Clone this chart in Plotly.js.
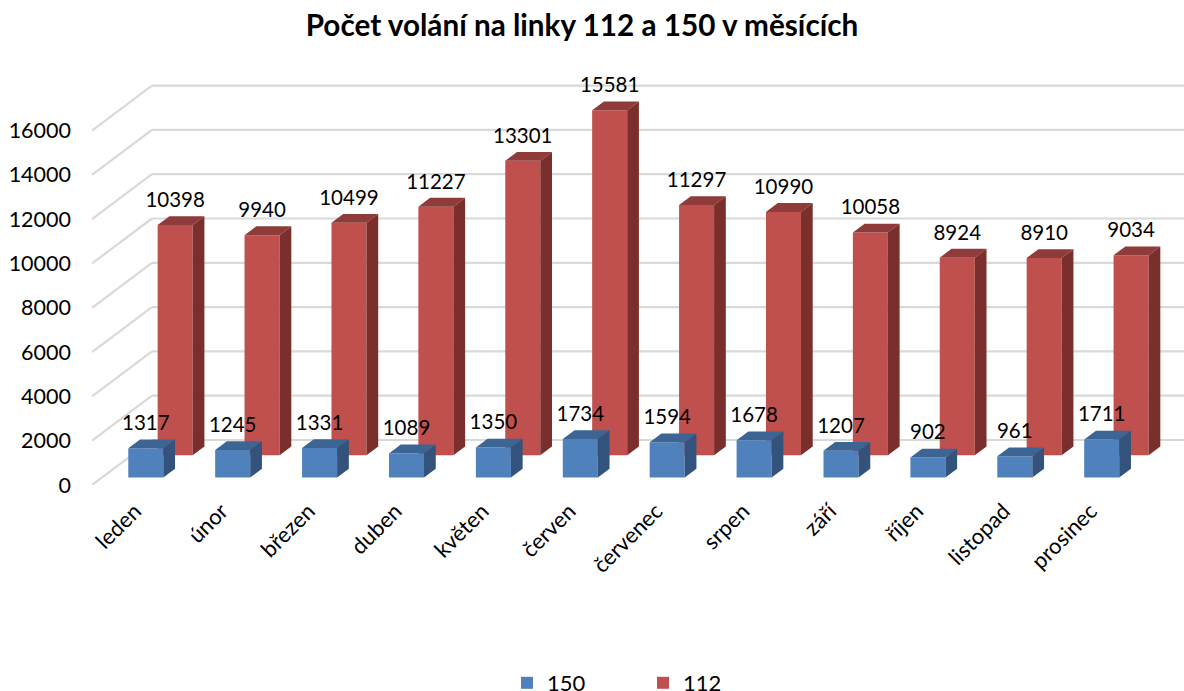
<!DOCTYPE html>
<html><head><meta charset="utf-8">
<script src="https://cdn.plot.ly/plotly-3.0.1.min.js"></script>
<style>html,body{margin:0;padding:0;background:#fff;overflow:hidden}#c{width:1184px;height:691px}</style>
</head><body><div id="c"></div>
<script>
const months=['leden','únor','březen','duben','květen','červen','červenec','srpen','září','říjen','listopad','prosinec'];
const calls150=[1317,1245,1331,1089,1350,1734,1594,1678,1207,902,961,1711];
const calls112=[10398,9940,10499,11227,13301,15581,11297,10990,10058,8924,8910,9034];
const yTicks=[0,2000,4000,6000,8000,10000,12000,14000,16000];

// projection of the pseudo-3D scene, in axis units
const barW=0.403, depthX=0.135, depthY=397;
const baseBlue=338, baseRed=1340, redShift=0.338;
const wallX=0.69, wallY=2031;
const xMin=-0.619, xMax=11.947, yMax=18735;
const xBlue=months.map((m,i)=>i), xRed=months.map((m,i)=>i+redShift);

function faces(xs,vals,base){
  const top={x:[],y:[]}, side={x:[],y:[]};
  xs.forEach((c,i)=>{
    const l=c-barW/2,r=c+barW/2,b=base,t=base+vals[i];
    top.x.push(l,r,r+depthX,l+depthX,l,null);
    top.y.push(t,t,t+depthY,t+depthY,t,null);
    side.x.push(r,r+depthX,r+depthX,r,r,null);
    side.y.push(b,b+depthY,t+depthY,t,b,null);
  });
  return {top,side};
}
const poly=(f,color)=>({type:'scatter',mode:'lines',x:f.x,y:f.y,fill:'toself',fillcolor:color,
  line:{width:0,color:color},hoverinfo:'skip',showlegend:false});
const fr=faces(xRed,calls112,baseRed), fb=faces(xBlue,calls150,baseBlue);
const bar=(name,xs,vals,base,color)=>({type:'bar',name:name,x:xs,y:vals,base:base,width:barW,
  marker:{color:color,line:{width:0}},hovertemplate:'%{customdata}<extra>'+name+'</extra>',customdata:months});
const labels=(xs,vals,base)=>({type:'scatter',mode:'text',x:xs,y:vals.map(v=>v+base+depthY+190),
  text:vals.map(String),textposition:'top center',textfont:{family:'Lato, Carlito, sans-serif',size:20.5,color:'#000'},
  hoverinfo:'skip',showlegend:false,cliponaxis:false});

const traces=[
  bar('112',xRed,calls112,baseRed,'#C0504D'),
  bar('150',xBlue,calls150,baseBlue,'#4F81BD'),
  poly(fr.top,'#8F3B39'),poly(fr.side,'#7B2F2D'),
  poly(fb.top,'#3D6594'),poly(fb.side,'#33527C'),
  labels(xRed,calls112,baseRed),labels(xBlue,calls150,baseBlue)
];
const grid={color:'#D9D9D9',width:2.2};
const shapes=[];
yTicks.forEach(v=>{
  shapes.push({type:'line',layer:'below',xref:'x',yref:'y',x0:xMin,y0:v,x1:xMin+wallX,y1:v+wallY,line:grid});
  shapes.push({type:'line',layer:'below',xref:'x',yref:'y',x0:xMin+wallX,y0:v+wallY,x1:xMax,y1:v+wallY,line:grid});
});
const font={family:'Lato, Carlito, sans-serif',size:22,color:'#000'};
const layout={
  width:1184,height:691,paper_bgcolor:'#fff',plot_bgcolor:'rgba(0,0,0,0)',
  margin:{l:92,r:0,t:70,b:206,autoexpand:false},
  font:font,shapes:shapes,barmode:'overlay',
  title:{text:'Počet volání na linky 112 a 150 v měsících',font:{family:'Lato, Carlito, sans-serif',size:29.7,color:'#000',weight:700},
    x:582/1184,xanchor:'center',xref:'container',y:1-26/691,yanchor:'middle',yref:'container'},
  xaxis:{range:[xMin,xMax],tickmode:'array',tickvals:xBlue,ticktext:months,tickangle:-45,showgrid:false,zeroline:false,
    showline:false,ticks:'',tickfont:font,ticklabelshift:-11,ticklabelstandoff:8},
  yaxis:{range:[0,yMax],tickmode:'array',tickvals:yTicks,ticktext:yTicks.map(String),showgrid:false,zeroline:false,
    showline:false,ticks:'',tickfont:{family:font.family,size:21.5,color:'#000'},ticklabelstandoff:20},
  legend:{orientation:'h',traceorder:'reversed',x:(507-92)/1092,xanchor:'left',y:(485-683)/415,yanchor:'middle',
    font:font,entrywidth:91,entrywidthmode:'pixels',bgcolor:'rgba(0,0,0,0)'},
  showlegend:true
};
Plotly.newPlot('c',traces,layout,{displayModeBar:false,responsive:false});
</script></body></html>
